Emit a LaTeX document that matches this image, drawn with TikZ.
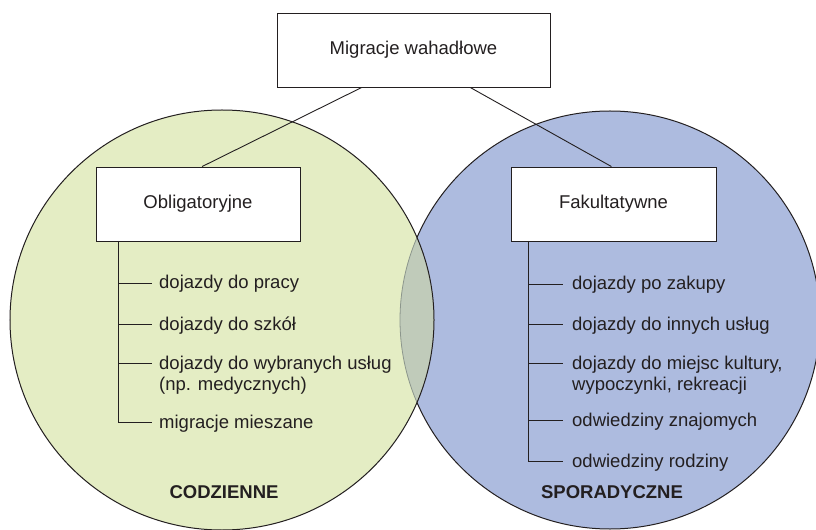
\documentclass[tikz,border=0pt]{standalone}
\usepackage{fontspec}
\setmainfont{Liberation Sans}
\usetikzlibrary{calc}
\definecolor{greenfill}{RGB}{228,237,196}
\definecolor{bluefill}{RGB}{173,187,223}
\definecolor{overlapfill}{RGB}{192,203,186}
\definecolor{inkc}{RGB}{35,31,32}
\definecolor{faintline}{RGB}{140,150,140}
\tikzset{
  every node/.style={font=\fontsize{18.5bp}{21bp}\selectfont, text=inkc},
  catbox/.style={draw=inkc, line width=0.9bp, fill=white, inner sep=0pt},
  conn/.style={draw=inkc, line width=0.9bp},
  item/.style={anchor=base west, inner sep=0pt},
  rim/.style={draw=inkc, line width=1bp},
  caption/.style={font=\fontsize{18.5bp}{21bp}\selectfont\bfseries}
}
\begin{document}
\begin{tikzpicture}[x=1bp, y=-1bp]
\clip (0,0) rectangle (816,530);
\fill[white] (0,0) rectangle (816,530);
% circles
\coordinate (LC) at (222,320);
\coordinate (RC) at (610,320);
\fill[bluefill] (RC) ellipse [x radius=210bp, y radius=209bp];
\draw[rim] (RC) ellipse [x radius=210bp, y radius=209bp];
\fill[greenfill] (LC) ellipse [x radius=212bp, y radius=210bp];
\begin{scope}
  \clip (LC) ellipse [x radius=212bp, y radius=210bp];
  \fill[overlapfill] (RC) ellipse [x radius=210bp, y radius=209bp];
  \draw[faintline, line width=0.8bp] (RC) ellipse [x radius=210bp, y radius=209bp];
\end{scope}
\draw[rim] (LC) ellipse [x radius=212bp, y radius=210bp];

% boxes
\node[catbox, minimum width=273bp, minimum height=74bp] (top) at (413.5,50) {Migracje wahadłowe};
\node[catbox, minimum width=204bp, minimum height=74bp] (obl) at (198,204) {Obligatoryjne};
\node[catbox, minimum width=205bp, minimum height=74bp] (fak) at (613.5,204) {Fakultatywne};

\draw[conn] ($(top.south west)!0.311!(top.south east)$) -- ($(obl.north west)!0.52!(obl.north east)$);
\draw[conn] ($(top.south west)!0.707!(top.south east)$) -- ($(fak.north west)!0.49!(fak.north east)$);

% left list
\node[item] (l1) at (159,289) {dojazdy do pracy};
\node[item] (l2) at (159,330) {dojazdy do szkół};
\node[item] (l3) at (159,369) {dojazdy do wybranych usług};
\node[item] (l3b) at (159,390) {(np. medycznych)};
\node[item] (l4) at (159,428) {migracje mieszane};
\coordinate (lt) at (118,241);
\coordinate (lb1) at (118,283); \coordinate (le1) at (152,283);
\coordinate (lb2) at (118,324); \coordinate (le2) at (152,324);
\coordinate (lb3) at (118,363); \coordinate (le3) at (152,363);
\coordinate (le4) at (152,422);
\draw[conn] (lt) |- (le4);
\draw[conn] (lb1) -- (le1);
\draw[conn] (lb2) -- (le2);
\draw[conn] (lb3) -- (le3);

% right list
\node[item] (r1) at (572,290) {dojazdy po zakupy};
\node[item] (r2) at (572,330) {dojazdy do innych usług};
\node[item] (r3) at (572,369) {dojazdy do miejsc kultury,};
\node[item] (r3b) at (572,390) {wypoczynki, rekreacji};
\node[item] (r4) at (572,426) {odwiedziny znajomych};
\node[item] (r5) at (572,467) {odwiedziny rodziny};
\coordinate (rt) at (528,241);
\coordinate (rb1) at (528,284); \coordinate (re1) at (563,284);
\coordinate (rb2) at (528,324); \coordinate (re2) at (563,324);
\coordinate (rb3) at (528,363); \coordinate (re3) at (563,363);
\coordinate (rb4) at (528,420); \coordinate (re4) at (563,420);
\coordinate (re5) at (563,461);
\draw[conn] (rt) |- (re5);
\draw[conn] (rb1) -- (re1);
\draw[conn] (rb2) -- (re2);
\draw[conn] (rb3) -- (re3);
\draw[conn] (rb4) -- (re4);

% captions
\node[caption] (cod) at (224,492) {CODZIENNE};
\node[caption] (spo) at (612,492) {SPORADYCZNE};
\end{tikzpicture}
\end{document}
